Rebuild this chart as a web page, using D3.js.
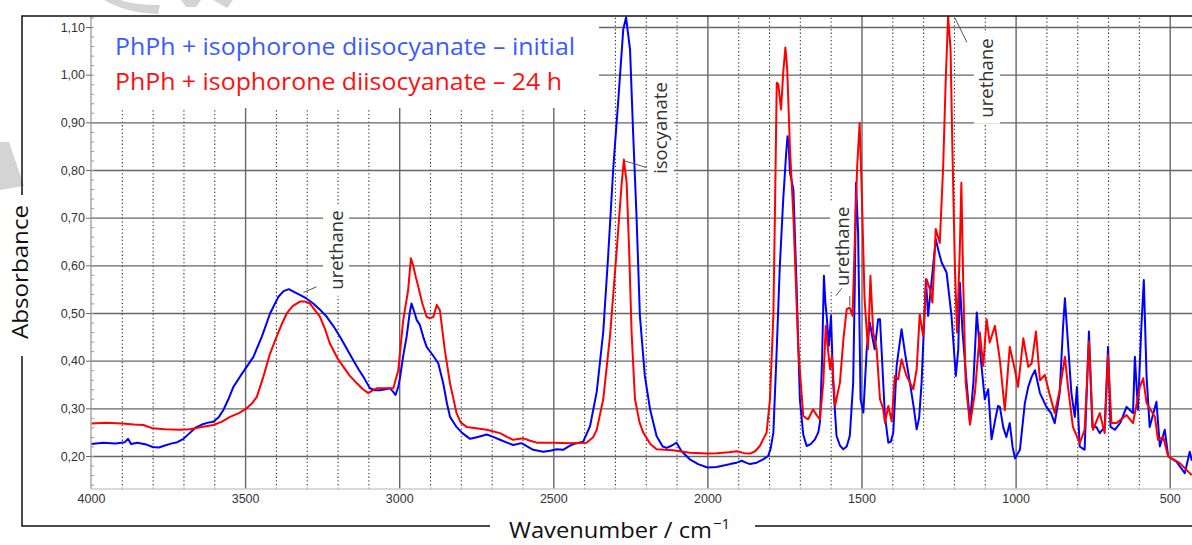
<!DOCTYPE html>
<html>
<head>
<meta charset="utf-8">
<script src="https://cdn.jsdelivr.net/npm/d3@7"></script>
<style>
  body { margin: 0; background: #fff; }
  svg { display: block; }
</style>
</head>
<body>
<svg id="chart" width="1192" height="545"></svg>
<script>
// IR spectra - PhPh + isophorone diisocyanate

// tick values
const wnMajor = [4000, 3500, 3000, 2500, 2000, 1500, 1000, 500];
const wnMinor = d3.range(3900, 500, -100).filter(d => d % 500 !== 0);
const absTicks = [0.2, 0.3, 0.4, 0.5, 0.6, 0.7, 0.8, 0.9, 1.0, 1.1];

const seriesNames = ["PhPh + isophorone diisocyanate \u2013 initial", "PhPh + isophorone diisocyanate \u2013 24 h"];

// [wavenumber, absorbance]
const initialSpectrum = [
  [4000,0.225],[3960,0.228],[3920,0.226],[3890,0.229],[3880,0.236],[3870,0.225],[3850,0.228],[3820,0.224],
  [3800,0.219],[3780,0.218],[3760,0.222],[3740,0.226],[3720,0.229],[3700,0.236],[3680,0.248],[3660,0.26],
  [3640,0.266],[3620,0.27],[3603,0.272],[3585,0.282],[3571,0.296],[3555,0.318],[3538,0.345],[3515,0.368],
  [3495,0.387],[3473,0.408],[3446,0.45],[3419,0.499],[3392,0.534],[3375,0.546],[3358,0.55],[3340,0.544],
  [3322,0.538],[3300,0.53],[3279,0.52],[3257,0.507],[3235,0.492],[3212,0.471],[3192,0.45],[3170,0.425],
  [3149,0.401],[3130,0.38],[3116,0.366],[3095,0.342],[3078,0.338],[3062,0.338],[3045,0.34],[3030,0.342],
  [3020,0.335],[3012,0.328],[3003,0.345],[2997,0.366],[2987,0.41],[2976,0.45],[2966,0.5],[2960,0.52],
  [2950,0.5],[2943,0.485],[2933,0.475],[2922,0.45],[2911,0.429],[2895,0.415],[2884,0.405],[2873,0.394],
  [2857,0.352],[2845,0.31],[2835,0.282],[2814,0.261],[2795,0.248],[2770,0.236],[2745,0.24],[2716,0.245],
  [2695,0.24],[2673,0.234],[2650,0.228],[2630,0.223],[2603,0.227],[2585,0.22],[2565,0.213],[2533,0.209],
  [2510,0.211],[2489,0.214],[2468,0.213],[2450,0.22],[2435,0.225],[2403,0.23],[2381,0.262],[2359,0.335],
  [2338,0.46],[2322,0.62],[2305,0.808],[2289,0.948],[2273,1.095],[2264,1.12],[2251,1.053],[2241,0.878],
  [2230,0.703],[2219,0.494],[2203,0.368],[2186,0.298],[2165,0.242],[2145,0.22],[2132,0.217],[2115,0.222],
  [2100,0.228],[2084,0.21],[2057,0.193],[2030,0.183],[2000,0.176],[1970,0.177],[1940,0.181],[1927,0.183],
  [1905,0.186],[1889,0.19],[1875,0.186],[1862,0.183],[1840,0.186],[1819,0.193],[1803,0.2],[1795,0.215],
  [1786,0.249],[1775,0.424],[1765,0.599],[1754,0.738],[1745,0.83],[1740,0.871],[1736,0.85],[1732,0.794],
  [1725,0.772],[1721,0.759],[1711,0.564],[1700,0.319],[1689,0.245],[1678,0.221],[1665,0.225],[1651,0.235],
  [1640,0.25],[1635,0.27],[1628,0.4],[1622,0.578],[1617,0.52],[1613,0.494],[1606,0.431],[1599,0.494],
  [1592,0.354],[1581,0.242],[1570,0.222],[1559,0.214],[1548,0.22],[1538,0.242],[1527,0.354],[1522,0.55],
  [1518,0.773],[1511,0.668],[1503,0.319],[1494,0.291],[1483,0.424],[1473,0.48],[1465,0.45],[1457,0.424],
  [1446,0.487],[1440,0.487],[1435,0.424],[1424,0.284],[1413,0.228],[1405,0.23],[1397,0.249],[1386,0.389],
  [1370,0.466],[1359,0.417],[1343,0.354],[1330,0.3],[1321,0.256],[1313,0.28],[1305,0.354],[1291,0.571],
  [1284,0.494],[1273,0.564],[1259,0.655],[1250,0.63],[1240,0.606],[1224,0.585],[1208,0.494],[1194,0.368],
  [1186,0.424],[1181,0.564],[1172,0.459],[1159,0.354],[1148,0.27],[1137,0.354],[1126,0.501],[1116,0.424],
  [1100,0.319],[1089,0.34],[1078,0.235],[1065,0.28],[1057,0.305],[1051,0.303],[1040,0.26],[1030,0.24],
  [1019,0.269],[1010,0.22],[1002,0.195],[986,0.213],[970,0.311],[959,0.345],[948,0.366],[937,0.38],
  [921,0.332],[900,0.303],[885,0.29],[873,0.269],[857,0.332],[846,0.471],[840,0.531],[830,0.436],
  [819,0.332],[808,0.282],[801,0.345],[792,0.22],[776,0.213],[762,0.461],[751,0.261],[738,0.261],
  [727,0.248],[711,0.261],[700,0.429],[692,0.261],[678,0.255],[660,0.27],[640,0.303],[619,0.29],
  [613,0.408],[603,0.297],[592,0.471],[584,0.569],[575,0.366],[565,0.261],[543,0.314],[532,0.22],
  [516,0.255],[505,0.199],[478,0.188],[451,0.164],[435,0.209],[428,0.19]
];

const after24hSpectrum = [
  [4000,0.268],[3950,0.27],[3900,0.268],[3860,0.266],[3830,0.265],[3800,0.258],[3760,0.256],[3711,0.255],
  [3680,0.256],[3650,0.26],[3603,0.265],[3575,0.272],[3549,0.282],[3520,0.29],[3495,0.3],[3478,0.31],
  [3462,0.324],[3441,0.366],[3419,0.415],[3398,0.45],[3380,0.478],[3365,0.499],[3345,0.515],[3322,0.524],
  [3305,0.524],[3290,0.52],[3257,0.492],[3240,0.465],[3225,0.436],[3200,0.405],[3181,0.387],[3160,0.368],
  [3138,0.353],[3118,0.34],[3100,0.332],[3085,0.338],[3073,0.342],[3045,0.342],[3019,0.342],[3003,0.38],
  [2987,0.485],[2971,0.548],[2962,0.615],[2955,0.6],[2946,0.575],[2938,0.555],[2925,0.52],[2911,0.492],
  [2900,0.489],[2889,0.492],[2878,0.517],[2868,0.506],[2852,0.422],[2835,0.352],[2814,0.29],[2800,0.27],
  [2781,0.261],[2750,0.258],[2716,0.255],[2673,0.248],[2650,0.24],[2630,0.234],[2597,0.237],[2575,0.232],
  [2554,0.228],[2500,0.228],[2446,0.227],[2392,0.228],[2370,0.24],[2359,0.255],[2338,0.319],[2316,0.452],
  [2294,0.634],[2278,0.773],[2271,0.822],[2262,0.773],[2254,0.634],[2246,0.459],[2235,0.319],[2220,0.27],
  [2208,0.249],[2185,0.225],[2165,0.214],[2111,0.212],[2057,0.207],[2000,0.205],[1970,0.206],[1930,0.208],
  [1905,0.21],[1880,0.206],[1862,0.205],[1845,0.21],[1830,0.221],[1808,0.249],[1797,0.319],[1786,0.494],
  [1781,0.703],[1775,0.983],[1770,0.98],[1761,0.927],[1754,1.004],[1747,1.057],[1741,1.011],[1732,0.843],
  [1721,0.703],[1705,0.424],[1689,0.284],[1673,0.277],[1657,0.298],[1645,0.285],[1635,0.277],[1624,0.354],
  [1616,0.473],[1610,0.431],[1602,0.382],[1596,0.41],[1586,0.305],[1570,0.354],[1558,0.45],[1548,0.508],
  [1538,0.511],[1529,0.494],[1521,0.668],[1514,0.808],[1506,0.899],[1500,0.773],[1490,0.529],[1479,0.424],
  [1471,0.578],[1462,0.459],[1451,0.424],[1440,0.319],[1430,0.3],[1424,0.27],[1413,0.305],[1402,0.273],
  [1392,0.368],[1381,0.361],[1370,0.403],[1354,0.368],[1332,0.34],[1321,0.382],[1311,0.497],[1300,0.452],
  [1289,0.571],[1278,0.55],[1270,0.522],[1259,0.676],[1246,0.647],[1235,0.808],[1227,0.983],[1219,1.123],
  [1211,1.053],[1205,0.843],[1197,0.599],[1190,0.459],[1181,0.634],[1176,0.773],[1170,0.564],[1162,0.354],
  [1148,0.266],[1132,0.333],[1116,0.459],[1105,0.389],[1094,0.487],[1084,0.438],[1067,0.473],[1051,0.401],
  [1035,0.296],[1019,0.429],[1002,0.38],[992,0.345],[975,0.447],[959,0.387],[948,0.394],[934,0.461],
  [921,0.359],[905,0.37],[890,0.33],[873,0.29],[857,0.338],[840,0.408],[830,0.345],[814,0.261],
  [792,0.227],[776,0.255],[762,0.44],[749,0.255],[727,0.29],[711,0.248],[700,0.412],[689,0.269],
  [673,0.269],[640,0.286],[619,0.269],[597,0.345],[586,0.363],[575,0.311],[548,0.282],[538,0.234],
  [521,0.24],[505,0.199],[467,0.185],[435,0.164],[428,0.16]
];

// band labels: text, wavenumber of the label, absorbance at its centre
const bandLabels = ["urethane", "isocyanate", "urethane", "urethane"];
const bandLabelWn = [3205, 2151, 1560, 1093];
const bandLabelAbs = [0.632, 0.888, 0.64, 0.993];

// leader lines from label to band, [wavenumber, absorbance]
const leaders = [
    [[3311, 0.543], [3268, 0.555]],
    [[2268, 0.819], [2197, 0.805]],
    [[1583, 0.536], [1564, 0.552], null, [1538, 0.536], [1538, 0.515]],
    [[1197, 1.119], [1158, 1.068]]
];

const colors = ["#0000ff", "#ff0000"];
const legendColors = ["#3a5cff", "#ff1010"];

const plot = {left: 91, right: 1192, top: 16, bottom: 489};
const svg = d3.select("#chart");

const x = d3.scaleLinear().domain([4000, 500]).range([91, 1169.7]);
const y = d3.scaleLinear().domain([0.2, 1.1]).range([456, 27]);

// faint watermark pieces (top left)
const watermark = svg.append("g").attr("fill", "#d4d4d4");
watermark.append("path").attr("d", "M104,0 Q126,13 158,14 L160,5 Q134,5 120,0 Z");
watermark.append("path").attr("d", "M181,0 L201,0 L196,7 L186,7 Z");
watermark.append("path").attr("d", "M213,0 L233,0 L227,8 Z");
watermark.append("path").attr("d", "M0,142 L9,142 L24,186 L0,190 Z");

// clip
svg.append("clipPath").attr("id", "plot-clip")
   .append("rect")
   .attr("x", plot.left).attr("y", plot.top)
   .attr("width", plot.right - plot.left).attr("height", plot.bottom - plot.top);

// grid - dotted every 100
const gridMinor = svg.append("g")
   .attr("transform", `translate(0, ${plot.bottom})`)
   .call(d3.axisBottom(x).tickValues(wnMinor).tickSize(-(plot.bottom - plot.top)).tickFormat(""));
gridMinor.select(".domain").remove();
gridMinor.selectAll("line").attr("stroke", "#333").attr("stroke-width", 1.1).attr("stroke-dasharray", "1.3,2.4");

// grid - solid every 500
const gridMajor = svg.append("g")
   .attr("transform", `translate(0, ${plot.bottom})`)
   .call(d3.axisBottom(x).tickValues(wnMajor.slice(1)).tickSize(-(plot.bottom - plot.top)).tickFormat(""));
gridMajor.select(".domain").remove();
gridMajor.selectAll("line").attr("stroke", "#666").attr("stroke-width", 1.4);

// grid - horizontal
const gridY = svg.append("g")
   .attr("transform", `translate(${plot.left}, 0)`)
   .call(d3.axisLeft(y).tickValues(absTicks).tickSize(-(plot.right - plot.left)).tickFormat(""));
gridY.select(".domain").remove();
gridY.selectAll("line").attr("stroke", "#666").attr("stroke-width", 1.4);

// white box behind the legend
svg.append("rect")
   .attr("x", plot.left + 1).attr("y", plot.top).attr("width", 598 - plot.left).attr("height", 108 - plot.top)
   .attr("fill", "#fff");

// band labels with white boxes (boxes sit under the spectra)
const labelSize = 18.5;
const boxGroup = svg.append("g");
const curves = svg.append("g").attr("clip-path", "url(#plot-clip)");
const labelGroup = svg.append("g");

bandLabels.forEach((txt, i) => {
    const cx = x(bandLabelWn[i]);
    const cy = y(bandLabelAbs[i]);
    const t = labelGroup.append("text")
       .attr("transform", `translate(${cx}, ${cy}) rotate(-90)`)
       .attr("text-anchor", "middle")
       .attr("dy", "0.35em")
       .style("font-family", "'Open Sans', sans-serif")
       .style("font-size", labelSize + "px")
       .attr("fill", "#333")
       .text(txt);
    const len = t.node().getComputedTextLength();
    boxGroup.append("rect")
       .attr("x", cx - 13).attr("y", cy - len / 2 - 6)
       .attr("width", 26).attr("height", len + 12)
       .attr("fill", "#fff");
});

const leaderLine = d3.line().defined(d => d !== null).x(d => x(d[0])).y(d => y(d[1]));
leaders.forEach(pts => {
    labelGroup.append("path").attr("d", leaderLine(pts))
       .attr("fill", "none").attr("stroke", "#555").attr("stroke-width", 1);
});

// spectra
const line = d3.line().x(d => x(d[0])).y(d => y(d[1]));
[initialSpectrum, after24hSpectrum].forEach((s, i) => {
    curves.append("path")
       .datum(s)
       .attr("d", line)
       .attr("fill", "none")
       .attr("stroke", colors[i])
       .attr("stroke-width", 2)
       .attr("stroke-linejoin", "round");
});

// axes
svg.append("line")
   .attr("x1", plot.left).attr("x2", plot.left).attr("y1", plot.top).attr("y2", plot.bottom)
   .attr("stroke", "#aaa").attr("stroke-width", 1.5);
svg.append("line")
   .attr("x1", plot.left).attr("x2", plot.right).attr("y1", plot.bottom).attr("y2", plot.bottom)
   .attr("stroke", "#ccc").attr("stroke-width", 1.5);

const yAxis = svg.append("g")
   .attr("transform", `translate(${plot.left}, 0)`)
   .call(d3.axisLeft(y).tickValues(absTicks).tickSize(5).tickPadding(1)
      .tickFormat(d => d.toFixed(2).replace(".", ",")));
yAxis.select(".domain").remove();
yAxis.selectAll("line").attr("stroke", "#666");
yAxis.selectAll("text")
   .style("font-family", "'Liberation Sans', Arial, sans-serif")
   .style("font-size", "12.5px").attr("fill", "#333");

const yMinor = svg.append("g")
   .attr("transform", `translate(${plot.left}, 0)`)
   .call(d3.axisLeft(y).tickValues(d3.range(0.14, 1.12, 0.02)).tickSize(-3).tickFormat(""));
yMinor.select(".domain").remove();
yMinor.selectAll("line").attr("stroke", "#999");

const xAxis = svg.append("g")
   .attr("transform", `translate(0, ${plot.bottom})`)
   .call(d3.axisBottom(x).tickValues(wnMajor).tickSize(0).tickPadding(5).tickFormat(d3.format("d")));
xAxis.select(".domain").remove();
xAxis.selectAll("text")
   .style("font-family", "'Liberation Sans', Arial, sans-serif")
   .style("font-size", "12.5px").attr("fill", "#333");

// outer frame
const frame = "#111";
svg.append("path")
   .attr("d", "M22,195 L22,16 L1192,16")
   .attr("fill", "none").attr("stroke", frame).attr("stroke-width", 1.5);
svg.append("path")
   .attr("d", "M22,356 L22,526 L490,526 M755,526 L1192,526")
   .attr("fill", "none").attr("stroke", frame).attr("stroke-width", 1.5);

// axis titles
svg.append("text")
   .attr("transform", "translate(28, 272) rotate(-90)")
   .attr("text-anchor", "middle")
   .attr("textLength", 134).attr("lengthAdjust", "spacingAndGlyphs")
   .style("font-family", "'Open Sans', sans-serif")
   .style("font-size", "22px").attr("fill", "#111")
   .text("Absorbance");

const xTitle = svg.append("text")
   .attr("x", 509).attr("y", 538)
   .style("font-family", "'Open Sans', sans-serif")
   .style("font-size", "22px").attr("fill", "#111");
xTitle.append("tspan").attr("textLength", 203).attr("lengthAdjust", "spacingAndGlyphs").text("Wavenumber / cm");
xTitle.append("tspan").attr("dx", 1).attr("dy", -9).style("font-size", "15px").text("\u22121");

// legend
seriesNames.forEach((name, i) => {
    svg.append("text")
       .attr("x", 115).attr("y", 55 + i * 35)
       .attr("textLength", i === 0 ? 460 : 447).attr("lengthAdjust", "spacingAndGlyphs")
       .style("font-family", "'Open Sans', sans-serif")
       .style("font-size", "23px").attr("fill", legendColors[i])
       .text(name);
});
</script>
</body>
</html>
